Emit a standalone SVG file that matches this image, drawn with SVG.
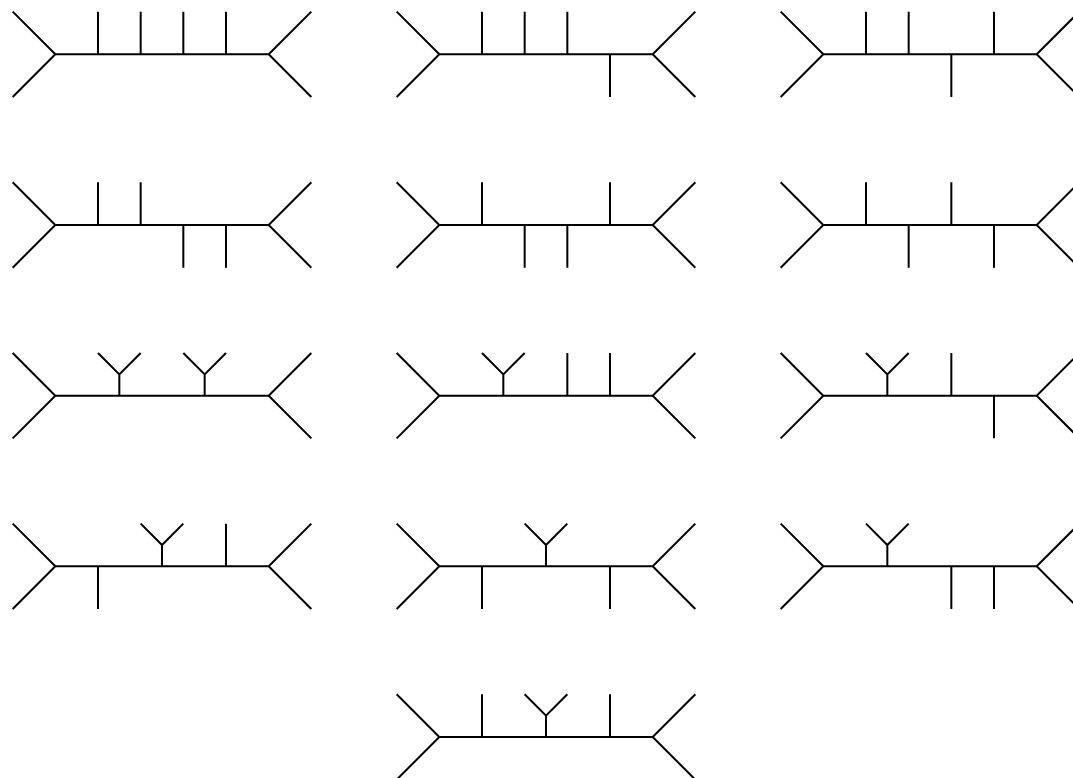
<svg xmlns="http://www.w3.org/2000/svg" xmlns:xlink="http://www.w3.org/1999/xlink" width="1073" height="778" viewBox="0 0 1073 778">
<style>
.b{fill:none;stroke:#000;stroke-width:2;stroke-linejoin:miter;stroke-linecap:butt}
</style>
<defs>
<path id="bb" class="b" d="M12.67,-42.67 L55.33,0 L12.67,42.67 M55.33,0 H268.67 M311.33,-42.67 L268.67,0 L311.33,42.67"/>
</defs>
<rect width="1073" height="778" fill="#fff"/>
<g id="m1" transform="translate(0,54.33)"><use xlink:href="#bb"/><path class="b" d="M98,0V-42.67 M140.67,0V-42.67 M183.33,0V-42.67 M226,0V-42.67"/></g>
<g id="m2" transform="translate(384,54.33)"><use xlink:href="#bb"/><path class="b" d="M98,0V-42.67 M140.67,0V-42.67 M183.33,0V-42.67 M226,0V42.67"/></g>
<g id="m3" transform="translate(768,54.33)"><use xlink:href="#bb"/><path class="b" d="M98,0V-42.67 M140.67,0V-42.67 M183.33,0V42.67 M226,0V-42.67"/></g>
<g id="m4" transform="translate(0,225)"><use xlink:href="#bb"/><path class="b" d="M98,0V-42.67 M140.67,0V-42.67 M183.33,0V42.67 M226,0V42.67"/></g>
<g id="m5" transform="translate(384,225)"><use xlink:href="#bb"/><path class="b" d="M98,0V-42.67 M140.67,0V42.67 M183.33,0V42.67 M226,0V-42.67"/></g>
<g id="m6" transform="translate(768,225)"><use xlink:href="#bb"/><path class="b" d="M98,0V-42.67 M140.67,0V42.67 M183.33,0V-42.67 M226,0V42.67"/></g>
<g id="m7" transform="translate(0,395.67)"><use xlink:href="#bb"/><path class="b" d="M119.33,0V-21.33 M98,-42.67 L119.33,-21.33 L140.67,-42.67 M204.67,0V-21.33 M183.33,-42.67 L204.67,-21.33 L226,-42.67"/></g>
<g id="m8" transform="translate(384,395.67)"><use xlink:href="#bb"/><path class="b" d="M119.33,0V-21.33 M98,-42.67 L119.33,-21.33 L140.67,-42.67 M183.33,0V-42.67 M226,0V-42.67"/></g>
<g id="m9" transform="translate(768,395.67)"><use xlink:href="#bb"/><path class="b" d="M119.33,0V-21.33 M98,-42.67 L119.33,-21.33 L140.67,-42.67 M183.33,0V-42.67 M226,0V42.67"/></g>
<g id="m10" transform="translate(0,566.33)"><use xlink:href="#bb"/><path class="b" d="M98,0V42.67 M162,0V-21.33 M140.67,-42.67 L162,-21.33 L183.33,-42.67 M226,0V-42.67"/></g>
<g id="m11" transform="translate(384,566.33)"><use xlink:href="#bb"/><path class="b" d="M98,0V42.67 M162,0V-21.33 M140.67,-42.67 L162,-21.33 L183.33,-42.67 M226,0V42.67"/></g>
<g id="m12" transform="translate(768,566.33)"><use xlink:href="#bb"/><path class="b" d="M119.33,0V-21.33 M98,-42.67 L119.33,-21.33 L140.67,-42.67 M183.33,0V42.67 M226,0V42.67"/></g>
<g id="m13" transform="translate(384,737)"><use xlink:href="#bb"/><path class="b" d="M98,0V-42.67 M162,0V-21.33 M140.67,-42.67 L162,-21.33 L183.33,-42.67 M226,0V-42.67"/></g>
</svg>
